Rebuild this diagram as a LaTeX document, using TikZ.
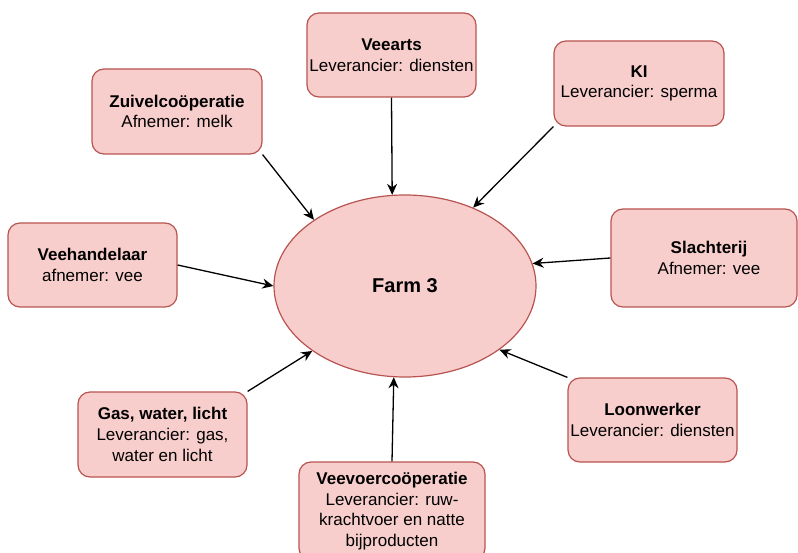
\documentclass[tikz,border=0pt]{standalone}
\usepackage{fontspec}
\setmainfont{Liberation Sans}
\usetikzlibrary{shapes.geometric,arrows.meta}
\definecolor{boxfill}{HTML}{F8CECC}
\definecolor{boxline}{HTML}{B85450}
\begin{document}
\begin{tikzpicture}[x=1pt,y=-1pt,
  party/.style={draw=boxline,fill=boxfill,line width=1.2pt,rounded corners=12pt,
    inner sep=0pt,align=center,font=\fontsize{17}{20.7}\selectfont},
  farmnode/.style={ellipse,draw=boxline,fill=boxfill,line width=1.2pt,inner sep=0pt,
    minimum width=262pt,minimum height=182pt,font=\fontsize{20}{24}\selectfont\bfseries},
  flow/.style={line width=1.3pt,-{Stealth[length=11pt,width=10pt]}}]
\useasboundingbox (0,0) rectangle (798,553);

\node[farmnode] (farm) at (405,286) {Farm 3};

\node[party,minimum width=169pt,minimum height=84pt] (veearts) at (391.5,55)
  {\textbf{Veearts}\\Leverancier: diensten};
\node[party,minimum width=170pt,minimum height=85pt] (ki) at (639,83.5)
  {\textbf{KI}\\Leverancier: sperma};
\node[party,minimum width=170pt,minimum height=85pt] (zuivel) at (177,111.5)
  {\textbf{Zuivelcoöperatie}\\Afnemer: melk};
\node[party,minimum width=169pt,minimum height=84pt] (handel) at (92.5,265)
  {\textbf{Veehandelaar}\\afnemer: vee};
\node[party,minimum width=186pt,minimum height=98pt] (slacht) at (704,258)
  {\hspace*{10pt}\textbf{Slachterij}\\\hspace*{10pt}Afnemer: vee};
\node[party,minimum width=169pt,minimum height=85pt] (gas) at (162.5,434.5)
  {\textbf{Gas, water, licht}\\Leverancier: gas,\\water en licht};
\node[party,minimum width=169pt,minimum height=84pt] (loon) at (652.5,420)
  {\textbf{Loonwerker}\\Leverancier: diensten};
\node[party,minimum width=186pt,minimum height=98pt] (voer) at (392,511)
  {\textbf{Veevoercoöperatie}\\Leverancier: ruw-\\krachtvoer en natte\\bijproducten};

\draw[flow] (veearts.south) -- (farm.98);
\draw[flow] (ki.south west) -- (farm.49);
\draw[flow] (zuivel.south east) -- (farm.144);
\draw[flow] (handel.east) -- (farm.180);
\draw[flow] (slacht.west) -- (farm.10);
\draw[flow] (gas.north east) -- (farm.215);
\draw[flow] (loon.north west) -- (farm.326);
\draw[flow] (voer.north) -- (farm.263);
\end{tikzpicture}
\end{document}
